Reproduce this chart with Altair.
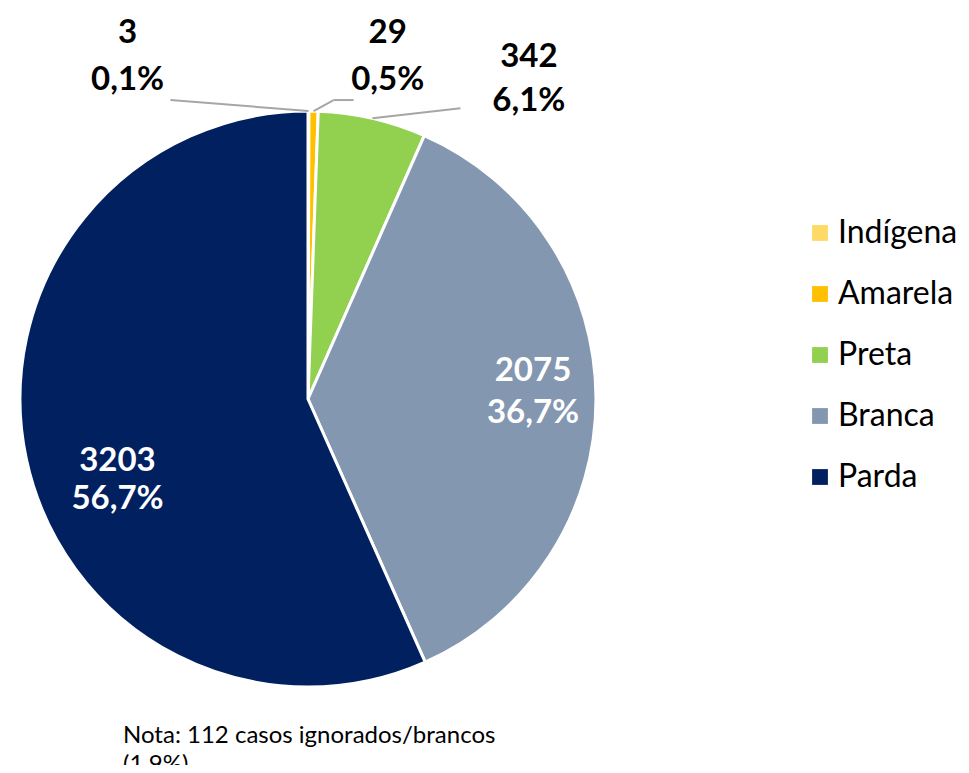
import altair as alt
import pandas as pd

cats = ["Indígena", "Amarela", "Preta", "Branca", "Parda"]
counts = [3, 29, 342, 2075, 3203]
pcts = ["0,1%", "0,5%", "6,1%", "36,7%", "56,7%"]
colors = ["#FFD966", "#FFC000", "#92D050", "#8497B0", "#002060"]
note_lines = ["Nota: 112 casos ignorados/brancos", "(1,9%)"]

df = pd.DataFrame({"cat": cats, "n": counts, "pct": pcts, "ord": list(range(len(cats)))})
df["label"] = df["n"].astype(str) + "\n" + df["pct"]

CX, CY, R = 300, 391, 288
FONT = "Lato"

base = (
    alt.Chart(df)
    .transform_joinaggregate(total="sum(n)")
    .transform_window(cum="sum(n)", sort=[alt.SortField("ord")], frame=[None, 0])
    .transform_calculate(
        mid="datum.cum - datum.n/2",
        ang="2*PI*(datum.cum - datum.n/2)/datum.total",
    )
    .transform_calculate(
        ex=f"{CX} + {R}*sin(datum.ang)",
        ey=f"{CY} - {R}*cos(datum.ang)",
    )
)

pie = base.mark_arc(outerRadius=R, stroke="white", strokeWidth=3).encode(
    theta=alt.Theta("n:Q", stack=True),
    order=alt.Order("ord:Q"),
    color=alt.Color(
        "cat:N",
        scale=alt.Scale(domain=cats, range=colors),
        legend=alt.Legend(
            title=None,
            orient="none",
            legendX=796,
            legendY=209,
            symbolType="square",
            symbolSize=250,
            symbolStrokeWidth=0,
            labelFontSize=32,
            labelFont=FONT,
            labelColor="#000000",
            rowPadding=29,
            labelOffset=2,
        ),
    ),
    x=alt.value(CX),
    y=alt.value(CY),
)


def label(cat, radius, dx, dy, color, lh):
    return (
        base.transform_filter(alt.datum.cat == cat)
        .mark_text(
            radius=radius, dx=dx, dy=dy, lineBreak="\n", lineHeight=lh,
            font=FONT, fontSize=33, fontWeight="bold", color=color,
            align="center", baseline="middle",
        )
        .encode(theta=alt.Theta("mid:Q"), text="label:N", x=alt.value(CX), y=alt.value(CY))
    )


def leader(cat, ox1, oy1, fromx=0, fromy=0):
    return (
        base.transform_filter(alt.datum.cat == cat)
        .transform_calculate(
            x1=f"datum.ex + {fromx}", y1=f"datum.ey + {fromy}",
            x2=f"datum.ex + {ox1}", y2=f"datum.ey + {oy1}",
        )
        .mark_rule(color="#A6A6A6", strokeWidth=2)
        .encode(
            x=alt.X("x1:Q", scale=None, axis=None),
            y=alt.Y("y1:Q", scale=None, axis=None),
            x2="x2:Q", y2="y2:Q",
        )
    )


labels = [
    label("Parda", 205, 10, 19, "white", 38),
    label("Branca", 225, 0, -28, "white", 42),
    label("Indígena", 343, -181, -23, "black", 47),
    label("Amarela", 343, 73, -23, "black", 47),
    label("Preta", 330, 147, -20, "black", 44),
]

leaders = [
    leader("Indígena", -138, -11),
    leader("Amarela", 20, -11),
    leader("Amarela", 40, -11, fromx=20, fromy=-11),
    leader("Preta", 88, -10),
]

note_df = pd.DataFrame({"t": ["\n".join(note_lines)]})
note = alt.Chart(note_df).mark_text(
    align="left", baseline="middle", font=FONT, fontSize=24, lineBreak="\n",
    lineHeight=29, color="#000000",
).encode(text="t:N", x=alt.value(115), y=alt.value(728))

chart = (
    alt.layer(pie, *leaders, *labels, note)
    .properties(
        width=953, height=757, autosize=alt.AutoSizeParams(type="none"),
        padding=0, background="white",
    )
    .configure_view(stroke="transparent", strokeWidth=0)
)

chart.save("out.html", embed_options={"renderer": "svg", "actions": False})
